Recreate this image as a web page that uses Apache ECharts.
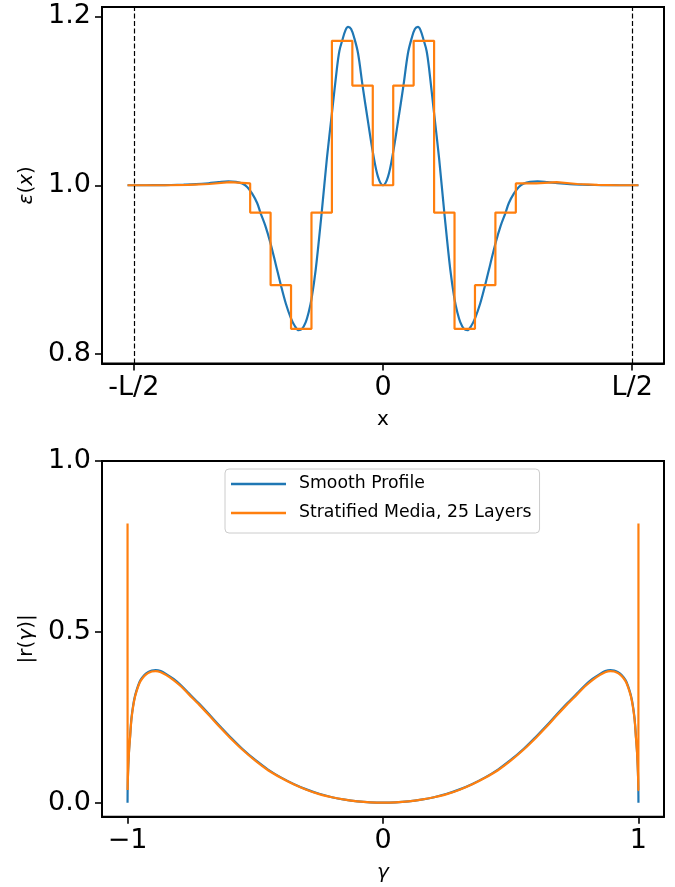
<!DOCTYPE html>
<html>
<head>
<meta charset="utf-8">
<script src="https://cdn.jsdelivr.net/npm/echarts@6/dist/echarts.min.js"></script>
<style>
  html, body { margin: 0; padding: 0; background: #ffffff; }
  #chart { width: 675px; height: 887px; }
</style>
</head>
<body>
<div id="chart"></div>
<script>
// ---- Permittivity profile eps(x) over the slab [-L/2, L/2] (L = 2) ----
const profileX = [
  -1.025, -0.95, -0.90, -0.85, -0.80, -0.75, -0.70, -0.66, -0.62, -0.59, -0.565, -0.545,
  -0.525, -0.505, -0.492, -0.472, -0.452, -0.43, -0.41, -0.39, -0.37, -0.355, -0.338,
  -0.325, -0.31, -0.298, -0.287, -0.27, -0.246, -0.225, -0.205, -0.185, -0.175, -0.164,
  -0.15, -0.14, -0.128, -0.115, -0.10, -0.082, -0.06, -0.04, -0.02, 0,
  0.02, 0.04, 0.06, 0.082, 0.10, 0.115, 0.128, 0.14, 0.15, 0.164, 0.175, 0.185, 0.205,
  0.225, 0.246, 0.27, 0.287, 0.298, 0.31, 0.325, 0.338, 0.355, 0.37, 0.39, 0.41, 0.43,
  0.452, 0.472, 0.492, 0.505, 0.525, 0.545, 0.565, 0.59, 0.62, 0.66, 0.70, 0.75, 0.80,
  0.85, 0.90, 0.95, 1.025
];
const profileEps = [
  1.0000, 1.0000, 1.0001, 1.0003, 1.0007, 1.0013, 1.0024, 1.0036, 1.0045, 1.0040, 1.0020, 0.9980,
  0.9900, 0.9790, 0.9677, 0.9520, 0.9320, 0.9060, 0.8820, 0.8600, 0.8430, 0.8340, 0.8284,
  0.8300, 0.8380, 0.8500, 0.8650, 0.9000, 0.9677, 1.0320, 1.0850, 1.1380, 1.1590, 1.1710,
  1.1840, 1.1875, 1.1850, 1.1740, 1.1560, 1.1180, 1.0750, 1.0380, 1.0100, 1.0000,
  1.0100, 1.0380, 1.0750, 1.1180, 1.1560, 1.1740, 1.1850, 1.1875, 1.1840, 1.1710, 1.1590, 1.1380, 1.0850,
  1.0320, 0.9677, 0.9000, 0.8650, 0.8500, 0.8380, 0.8300, 0.8284, 0.8340, 0.8430, 0.8600, 0.8820, 0.9060,
  0.9320, 0.9520, 0.9677, 0.9790, 0.9900, 0.9980, 1.0020, 1.0040, 1.0045, 1.0036, 1.0024, 1.0013, 1.0007,
  1.0003, 1.0001, 1.0000, 1.0000
];

// 25 homogeneous layers: boundaries and the permittivity inside each layer
const layerEdges = [
  -1.025, -0.943, -0.861, -0.779, -0.697, -0.615, -0.533, -0.451, -0.369, -0.287, -0.205, -0.123, -0.041,
  0.041, 0.123, 0.205, 0.287, 0.369, 0.451, 0.533, 0.615, 0.697, 0.779, 0.861, 0.943, 1.025
];
const layerEps = [
  1.0000, 1.0000, 1.0005, 1.0015, 1.0037, 1.0022, 0.9677, 0.8817, 0.8300, 0.9677, 1.1710, 1.1180,
  1.0000,
  1.1180, 1.1710, 0.9677, 0.8300, 0.8817, 0.9677, 1.0022, 1.0037, 1.0015, 1.0005, 1.0000, 1.0000
];

// slab boundaries (dashed markers) and top-panel ticks
const slabBounds = [-1, 1];
const xTickValues = [-1, 0, 1];
const xTickLabels = ['-L/2', '0', 'L/2'];
const epsTickValues = [0.8, 1.0, 1.2];

// ---- Reflection coefficient magnitude |r(gamma)| ----
const gammaVals = [
  -1, -0.9997, -0.999, -0.997, -0.994, -0.99, -0.985, -0.978, -0.97, -0.96, -0.95, -0.935,
  -0.92, -0.905, -0.89, -0.87, -0.85, -0.82, -0.79, -0.76, -0.72, -0.68, -0.64, -0.60,
  -0.55, -0.50, -0.45, -0.40, -0.35, -0.30, -0.25, -0.20, -0.15, -0.10, -0.05, 0,
  0.05, 0.10, 0.15, 0.20, 0.25, 0.30, 0.35, 0.40, 0.45, 0.50, 0.55, 0.60, 0.64, 0.68,
  0.72, 0.76, 0.79, 0.82, 0.85, 0.87, 0.89, 0.905, 0.92, 0.935, 0.95, 0.96, 0.97, 0.978,
  0.985, 0.99, 0.994, 0.997, 0.999, 0.9997, 1
];
const rSmooth = [
  0, 0.035, 0.065, 0.110, 0.155, 0.195, 0.245, 0.285, 0.315, 0.340, 0.358, 0.373,
  0.382, 0.387, 0.388, 0.385, 0.377, 0.362, 0.343, 0.320, 0.290, 0.258, 0.225, 0.194,
  0.157, 0.125, 0.097, 0.074, 0.055, 0.039, 0.026, 0.016, 0.009, 0.004, 0.001, 0,
  0.001, 0.004, 0.009, 0.016, 0.026, 0.039, 0.055, 0.074, 0.097, 0.125, 0.157, 0.194, 0.225, 0.258,
  0.290, 0.320, 0.343, 0.362, 0.377, 0.385, 0.388, 0.387, 0.382, 0.373, 0.358, 0.340, 0.315, 0.285,
  0.245, 0.195, 0.155, 0.110, 0.065, 0.035, 0
];
const rLayered = [
  0.817, 0.037, 0.063, 0.108, 0.152, 0.192, 0.242, 0.282, 0.312, 0.337, 0.355, 0.370,
  0.379, 0.384, 0.385, 0.382, 0.374, 0.359, 0.340, 0.317, 0.287, 0.255, 0.222, 0.191,
  0.155, 0.123, 0.095, 0.073, 0.054, 0.038, 0.025, 0.016, 0.009, 0.004, 0.001, 0,
  0.001, 0.004, 0.009, 0.016, 0.025, 0.038, 0.054, 0.073, 0.095, 0.123, 0.155, 0.191, 0.222, 0.255,
  0.287, 0.317, 0.340, 0.359, 0.374, 0.382, 0.385, 0.384, 0.379, 0.370, 0.355, 0.337, 0.312, 0.282,
  0.242, 0.192, 0.152, 0.108, 0.063, 0.037, 0.817
];
const gammaTickValues = [-1, 0, 1];
const gammaTickLabels = ['\u22121', '0', '1'];
const rTickValues = [0.0, 0.5, 1.0];

const seriesNames = ['Smooth Profile', 'Stratified Media, 25 Layers'];

// ---- styling ----
const FONT = 'DejaVu Sans';
const BLUE = '#1f77b4';
const ORANGE = '#ff7f0e';
const LW = 2.2;

const zip = (xs, ys) => xs.map((x, i) => [x, ys[i]]);

// each layer becomes a flat segment spanning its two boundaries
const layerSteps = [];
layerEps.forEach((v, i) => {
  layerSteps.push([layerEdges[i], v]);
  layerSteps.push([layerEdges[i + 1], v]);
});

function valueAxis(gridIndex, min, max, ticks, fmt, name, nameGap) {
  return {
    type: 'value',
    gridIndex: gridIndex,
    min: min,
    max: max,
    splitLine: { show: false },
    axisLine: { show: true, onZero: false, lineStyle: { color: '#000', width: 2 } },
    axisTick: { show: true, length: 7, customValues: ticks, lineStyle: { color: '#000', width: 1.6 } },
    axisLabel: {
      customValues: ticks, formatter: fmt, margin: 11,
      fontFamily: FONT, fontSize: 27, color: '#000'
    },
    name: name,
    nameLocation: 'middle',
    nameGap: nameGap,
    nameTextStyle: {
      fontFamily: FONT, fontSize: 20, color: '#000',
      rich: { i: { fontFamily: FONT, fontSize: 20, fontStyle: 'italic', color: '#000' } }
    }
  };
}

const option = {
  animation: false,
  backgroundColor: '#ffffff',
  grid: [
    { left: 102, right: 11, top: 7, height: 356.5, show: true, borderColor: '#000', borderWidth: 2, outerBoundsMode: 'none' },
    { left: 102, right: 11, top: 461, height: 355.7, show: true, borderColor: '#000', borderWidth: 2, outerBoundsMode: 'none' }
  ],
  xAxis: [
    valueAxis(0, -1.1275, 1.1275, xTickValues,
      v => xTickLabels[xTickValues.indexOf(v)], 'x', 46),
    valueAxis(1, -1.1, 1.1, gammaTickValues,
      v => gammaTickLabels[gammaTickValues.indexOf(v)], '{i|\u03b3}', 46)
  ],
  yAxis: [
    valueAxis(0, 0.789, 1.211, epsTickValues, v => v.toFixed(1), '{i|\u03b5}({i|x})', 64),
    valueAxis(1, -0.041, 1.0, rTickValues, v => v.toFixed(1), '|r({i|\u03b3})|', 64)
  ],
  legend: {
    orient: 'vertical',
    left: 225,
    top: 469,
    data: seriesNames,
    icon: 'rect',
    itemWidth: 55,
    itemHeight: 2.6,
    itemGap: 9,
    padding: [5, 8, 10, 6],
    backgroundColor: 'rgba(255,255,255,0.8)',
    borderColor: '#cccccc',
    borderWidth: 1,
    borderRadius: 4,
    selectedMode: false,
    textStyle: { fontFamily: FONT, fontSize: 17.3, color: '#000', lineHeight: 20, padding: [0, 0, 0, 8] }
  },
  series: [
    {
      name: seriesNames[0], type: 'line', xAxisIndex: 0, yAxisIndex: 0,
      data: zip(profileX, profileEps),
      showSymbol: false, smooth: 0.35,
      color: BLUE, itemStyle: { color: BLUE },
      lineStyle: { color: BLUE, width: LW }
    },
    {
      name: seriesNames[1], type: 'line', xAxisIndex: 0, yAxisIndex: 0,
      data: layerSteps,
      showSymbol: false,
      color: ORANGE, itemStyle: { color: ORANGE },
      lineStyle: { color: ORANGE, width: LW },
      markLine: {
        silent: true,
        symbol: ['none', 'none'],
        label: { show: false },
        lineStyle: { color: '#000', width: 1.2, type: [5, 2.5] },
        data: slabBounds.map(v => ({ xAxis: v }))
      }
    },
    {
      name: seriesNames[0], type: 'line', xAxisIndex: 1, yAxisIndex: 1,
      data: zip(gammaVals, rSmooth),
      showSymbol: false, smooth: 0.3,
      color: BLUE, itemStyle: { color: BLUE },
      lineStyle: { color: BLUE, width: LW }
    },
    {
      name: seriesNames[1], type: 'line', xAxisIndex: 1, yAxisIndex: 1,
      data: zip(gammaVals, rLayered),
      showSymbol: false, smooth: 0.3,
      color: ORANGE, itemStyle: { color: ORANGE },
      lineStyle: { color: ORANGE, width: LW }
    }
  ]
};

const chart = echarts.init(document.getElementById('chart'), null, { renderer: 'canvas' });
chart.setOption(option);
</script>
</body>
</html>
